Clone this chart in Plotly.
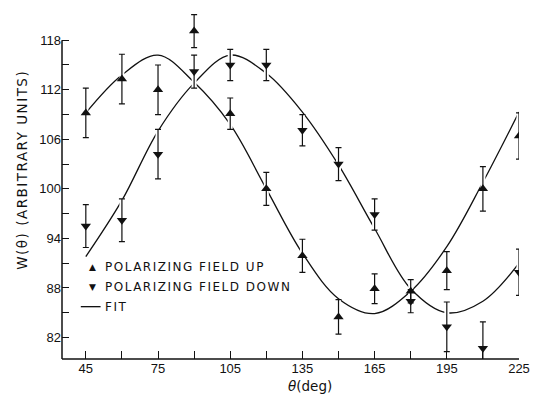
import plotly.graph_objects as go

# Angular distribution W(theta) for the two polarizing-field directions
theta = [45, 60, 75, 90, 105, 120, 135, 150, 165, 180, 195, 210, 225]

w_up = [109.2, 113.3, 112.0, 119.1, 109.1, 100.0, 91.9, 84.5, 87.9, 87.6, 90.1, 100.0, 106.4]
err_up = [3.0, 3.0, 3.0, 2.0, 1.9, 2.0, 2.0, 2.1, 1.8, 1.4, 2.3, 2.7, 2.8]

w_down = [95.5, 96.2, 104.2, 114.2, 115.0, 115.0, 107.1, 103.0, 96.9, 86.4, 83.3, 80.7, 89.9]
err_down = [2.6, 2.6, 3.0, 2.0, 1.9, 1.9, 1.9, 2.0, 1.9, 1.4, 3.0, 3.2, 2.8]

# Fitted curves, sampled every 15 degrees
fit_up = [109.2, 113.8, 116.2, 112.9, 107.8, 100.0, 92.2, 86.7, 84.9, 87.6, 93.0, 100.8, 109.3]
fit_down = [91.8, 98.6, 107.0, 112.8, 116.2, 114.0, 109.3, 102.9, 95.2, 87.9, 85.0, 86.4, 91.0]

x_ticks = list(range(45, 226, 15))
x_labels = [str(t) if (t - 45) % 30 == 0 else "" for t in x_ticks]
y_ticks = list(range(82, 119, 3))
y_labels = [str(t) if (t - 82) % 6 == 0 else "" for t in y_ticks]

X_RANGE = [35.1, 225.0]
Y_RANGE = [79.4, 121.9]
Y_TOP = 118

FONT = "Liberation Sans, Arial, sans-serif"
WIDE = "DejaVu Sans, Verdana, sans-serif"
INK = "#111111"


def spaced(text, px):
    return '<span style="letter-spacing:%spx">%s</span>' % (px, text)


fig = go.Figure()

for fit in (fit_up, fit_down):
    fig.add_trace(go.Scatter(
        x=theta, y=fit, mode="lines",
        line=dict(color=INK, width=1.3, shape="spline", smoothing=1.0),
        showlegend=False, hoverinfo="skip"))

# White halo behind each error bar so the fit curves break where they cross
for vals, errs in ((w_up, err_up), (w_down, err_down)):
    fig.add_trace(go.Scatter(
        x=theta, y=vals, mode="markers",
        marker=dict(size=2, color="rgba(0,0,0,0)"),
        error_y=dict(type="data", array=errs, color="white", thickness=5, width=0),
        showlegend=False, hoverinfo="skip"))

for vals, errs, sym in ((w_up, err_up, "triangle-up"), (w_down, err_down, "triangle-down")):
    fig.add_trace(go.Scatter(
        x=theta, y=vals, mode="markers",
        marker=dict(symbol=sym, size=9, color=INK),
        error_y=dict(type="data", array=errs, color=INK, thickness=1.2, width=3),
        showlegend=False))

# Axes: lines drawn as shapes so the vertical axis stops at the top tick
fig.add_shape(type="line", xref="paper", yref="y", x0=0, x1=0, y0=Y_RANGE[0], y1=Y_TOP,
              line=dict(color=INK, width=1.5))
fig.add_shape(type="line", xref="paper", yref="paper", x0=0, x1=1, y0=0, y1=0,
              line=dict(color=INK, width=1.5))


def px_x(px):
    return (px - 62) / 462.0


def px_y(py):
    return (359 - py) / 322.0


# Legend built from text and a short line sample
LEG_Y = [275, 293, 311]
legend_rows = [("\u25B2", "POLARIZING FIELD UP"), ("\u25BC", "POLARIZING FIELD DOWN"), (None, "FIT")]
for (sym, label), py in zip(legend_rows, LEG_Y):
    if sym:
        fig.add_annotation(x=px_x(93), y=px_y(py), xref="paper", yref="paper", text=sym,
                           showarrow=False, xanchor="center", yanchor="middle",
                           font=dict(family="DejaVu Sans", size=9, color=INK))
    fig.add_annotation(x=px_x(103), y=px_y(py), xref="paper", yref="paper",
                       text=spaced(label, 1.5),
                       showarrow=False, xanchor="left", yanchor="middle",
                       font=dict(family=WIDE, size=12, color=INK))
fig.add_shape(type="line", xref="paper", yref="paper", x0=px_x(81), x1=px_x(101),
              y0=px_y(LEG_Y[2]), y1=px_y(LEG_Y[2]), line=dict(color=INK, width=1.3))

# Axis titles
fig.add_annotation(x=px_x(313), y=px_y(384), xref="paper", yref="paper",
                   text="<i>\u03B8</i>(deg)", showarrow=False, borderpad=0,
                   xanchor="center", yanchor="middle", font=dict(family=WIDE, size=13.5, color=INK))
fig.add_annotation(x=px_x(22), y=px_y(185), xref="paper", yref="paper",
                   text=spaced("W(\u03B8) (ARBITRARY UNITS)", 1.5), showarrow=False, textangle=-90,
                   xanchor="center", yanchor="middle", font=dict(family=WIDE, size=13.5, color=INK))

fig.update_layout(
    width=538, height=396,
    margin=dict(l=62, r=14, t=8, b=37),
    paper_bgcolor="white", plot_bgcolor="white",
    font=dict(family=FONT, size=13, color=INK),
    xaxis=dict(range=X_RANGE, tickvals=x_ticks, ticktext=x_labels, ticks="inside",
               ticklen=8, tickwidth=1.3, tickcolor=INK, showgrid=False, zeroline=False,
               showline=False, tickfont=dict(size=13)),
    yaxis=dict(range=Y_RANGE, tickvals=y_ticks, ticktext=y_labels, ticks="inside",
               ticklen=7, tickwidth=1.3, tickcolor=INK, showgrid=False, zeroline=False,
               showline=False, tickfont=dict(size=13)),
)

fig.write_html("out.html")
